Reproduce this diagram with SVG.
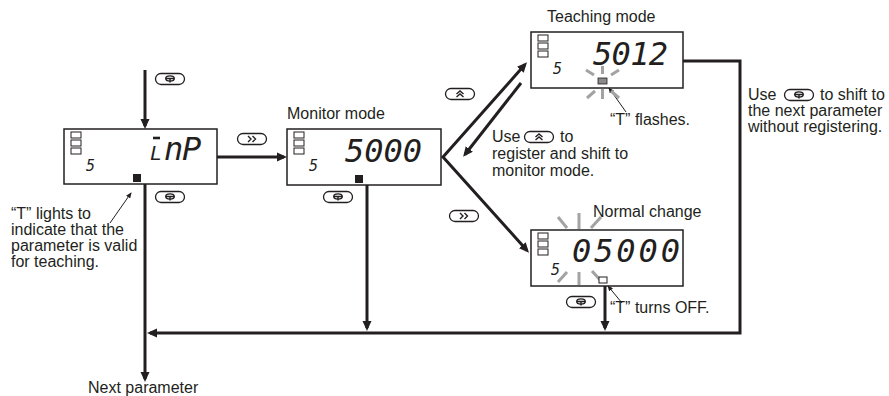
<svg xmlns="http://www.w3.org/2000/svg" xmlns:xlink="http://www.w3.org/1999/xlink" width="889" height="396" viewBox="0 0 889 396">
<style>
.t{font-family:"Liberation Sans",Arial,sans-serif;font-size:16px;fill:#231f20}
.d{font-family:"DejaVu Sans Mono",monospace;font-style:oblique;font-size:32px;fill:#231f20}
.s{font-family:"DejaVu Sans Mono",monospace;font-style:oblique;font-size:15px;fill:#231f20}
.box{fill:#fff;stroke:#231f20;stroke-width:1.5}
.ind{fill:#fff;stroke:#231f20;stroke-width:1}
.con{fill:none;stroke:#231f20;stroke-width:3}
.thin{fill:none;stroke:#231f20;stroke-width:1}
.ray{stroke:#a3a3a3;stroke-width:3}
.btn{fill:#fff;stroke:#231f20;stroke-width:1.3}
.ic{fill:none;stroke:#231f20;stroke-width:1.4}
</style>
<defs>
<marker id="ah" markerUnits="userSpaceOnUse" markerWidth="10" markerHeight="10" viewBox="0 0 10 10" refX="7" refY="5" orient="auto-start-reverse"><path d="M0,0.5 L10,5 L0,9.5 z" fill="#231f20"/></marker>
<marker id="sah" markerUnits="userSpaceOnUse" markerWidth="6" markerHeight="5" viewBox="0 0 6 5" refX="5" refY="2.5" orient="auto"><path d="M0,0 L6,2.5 L0,5 z" fill="#231f20"/></marker>
<g id="bmode"><rect class="btn" x="0.5" y="0.5" width="29" height="11" rx="5.5"/><ellipse class="ic" cx="15" cy="5.5" rx="4.2" ry="2.6"/><path class="ic" d="M10.5,5.5 H19.5 M15,5.5 V9.5"/></g>
<g id="bshift"><rect class="btn" x="0.5" y="0.5" width="29" height="11" rx="5.5"/><path class="ic" d="M11,3 L14,6 L11,9 M15.5,3 L18.5,6 L15.5,9"/></g>
<g id="bup"><rect class="btn" x="0.5" y="0.5" width="29" height="11" rx="5.5"/><path class="ic" d="M11.5,6 L15,3 L18.5,6 M11.5,9 L15,6 L18.5,9"/></g>
</defs>

<g id="connectors">
<path class="con" d="M145,70 V126" marker-end="url(#ah)"/>
<path class="con" d="M217,157 H284" marker-end="url(#ah)"/>
<path class="con" d="M145,184 V379" marker-end="url(#ah)"/>
<path class="con" d="M367,185 V328" marker-end="url(#ah)"/>
<path class="con" d="M605,286 V328" marker-end="url(#ah)"/>
<path class="con" d="M683,61 H740 V333 H150" marker-end="url(#ah)"/>
<path class="con" d="M525,64.5 L443,157 L527,250.5" marker-start="url(#ah)" marker-end="url(#ah)"/>
<path class="con" d="M521,83 L465,154.5" marker-end="url(#ah)"/>
<path class="thin" d="M110,223 L131,193" marker-end="url(#sah)"/>
<path class="thin" d="M626,112 L609,88" marker-end="url(#sah)"/>
<path class="thin" d="M622,303 L608,286" marker-end="url(#sah)"/>
<use xlink:href="#bmode" x="155" y="73"/>
<use xlink:href="#bshift" x="237" y="133"/>
<use xlink:href="#bmode" x="155" y="191"/>
<use xlink:href="#bmode" x="323" y="191"/>
<use xlink:href="#bup" x="445" y="88"/>
<use xlink:href="#bshift" x="449" y="210"/>
<use xlink:href="#bmode" x="566" y="296"/>
</g>

<g id="node-input">
<rect class="box" x="64" y="129" width="153" height="55"/>
<rect class="ind" x="71" y="132" width="10" height="6"/>
<rect class="ind" x="71" y="140" width="10" height="6"/>
<rect class="ind" x="71" y="148" width="10" height="6"/>
<text class="s" x="86" y="171">5</text>
<path d="M153,138 H160" stroke="#231f20" stroke-width="2.6"/>
<text class="d" y="160"><tspan x="150" font-size="20">L</tspan><tspan x="164">n</tspan><tspan x="182">P</tspan></text>
<rect x="133" y="174" width="8" height="8" fill="#231f20"/>
</g>

<g id="node-monitor">
<text class="t" x="287" y="119">Monitor mode</text>
<rect class="box" x="287" y="129" width="154" height="56"/>
<rect class="ind" x="294" y="132" width="10" height="6"/>
<rect class="ind" x="294" y="140" width="10" height="6"/>
<rect class="ind" x="294" y="148" width="10" height="6"/>
<text class="s" x="309" y="171">5</text>
<text class="d" x="345" y="162" textLength="77" lengthAdjust="spacing">5000</text>
<rect x="355" y="175" width="8" height="8" fill="#231f20"/>
</g>

<g id="node-teaching">
<text class="t" x="547" y="22">Teaching mode</text>
<rect class="box" x="531" y="32" width="152" height="56"/>
<rect class="ind" x="538" y="35" width="10" height="6"/>
<rect class="ind" x="538" y="43" width="10" height="6"/>
<rect class="ind" x="538" y="51" width="10" height="6"/>
<text class="s" x="553" y="74">5</text>
<text class="d" x="593" y="65" textLength="75" lengthAdjust="spacing">5012</text>
<path class="ray" d="M602.5,66 V74 M602.5,89 V99 M586,70 L594,75 M611,75 L619,70 M587,98 L595,91 M611,91 L619,98"/>
<rect x="598" y="78" width="9" height="6" fill="#8a8a8a" stroke="#231f20" stroke-width="0.8"/>
<text class="t" x="610" y="125">“T” flashes.</text>
</g>

<g id="node-normal">
<text class="t" x="593" y="217">Normal change</text>
<rect class="box" x="531" y="230" width="152" height="56"/>
<rect class="ind" x="538" y="233" width="10" height="6"/>
<rect class="ind" x="538" y="241" width="10" height="6"/>
<rect class="ind" x="538" y="249" width="10" height="6"/>
<text class="s" x="551" y="275">5</text>
<text class="d" x="572" y="262" textLength="108" lengthAdjust="spacing">05000</text>
<path class="ray" d="M579,213 V229 M558,217 L567,228 M601,217 L591,228 M579,272 V285 M558,282 L567,272 M601,281 L592,271"/>
<rect class="ind" x="599" y="277" width="8" height="6"/>
<text class="t" x="610" y="313">“T” turns OFF.</text>
</g>

<g id="note-left">
<text class="t" x="11" y="219">“T” lights to</text>
<text class="t" x="11" y="235">indicate that the</text>
<text class="t" x="11" y="251">parameter is valid</text>
<text class="t" x="11" y="267">for teaching.</text>
</g>

<g id="note-register">
<text class="t" x="492" y="142">Use</text>
<use xlink:href="#bup" x="524" y="131"/>
<text class="t" x="560" y="142">to</text>
<text class="t" x="492" y="159">register and shift to</text>
<text class="t" x="492" y="176">monitor mode.</text>
</g>

<g id="note-skip">
<text class="t" x="748" y="100">Use</text>
<use xlink:href="#bmode" x="784" y="89"/>
<text class="t" x="820" y="100">to shift to</text>
<text class="t" x="748" y="116">the next parameter</text>
<text class="t" x="748" y="132">without registering.</text>
</g>

<g id="node-next">
<text class="t" x="88" y="393">Next parameter</text>
</g>
</svg>
